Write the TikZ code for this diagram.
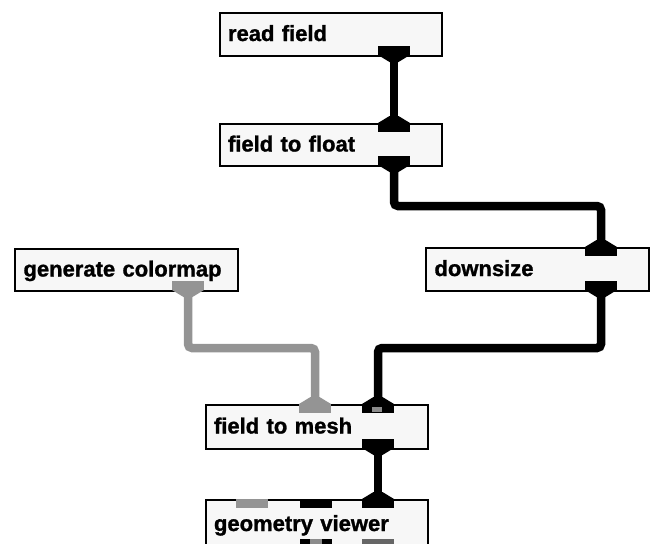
\documentclass[tikz,border=0pt]{standalone}
\usepackage{fontspec}
\newfontfamily\boxfont[BoldFeatures={FakeBold=1.2}]{Liberation Sans}
\tikzset{
  modbox/.style={draw=black, line width=2pt, fill=black!3, anchor=north west,
    minimum width=222pt, minimum height=43pt, inner xsep=8pt, text width=206pt,
    align=left, text height=16pt, text depth=3pt,
    font={\boxfont\bfseries\fontsize{22}{24}\selectfont}},
  wire/.style={line width=8.5pt, rounded corners=4pt, draw=#1},
  wire/.default=black,
  pics/outport/.style={code={
    \fill[#1] (-16,-9) rectangle (16,0);
    \fill[#1] (-16,0) -- (16,0) -- (4.5,7) -- (-4.5,7) -- cycle;}},
  pics/inport/.style={code={
    \fill[#1] (-16,0) rectangle (16,9);
    \fill[#1] (-16,0) -- (16,0) -- (4.5,-7) -- (-4.5,-7) -- cycle;}},
  pics/topport/.style={code={\fill[#1] (-16,0) rectangle (16,9);}},
  pics/botport/.style={code={\fill[#1] (-16,-9) rectangle (16,0);}},
}
\colorlet{gwire}{black!42}
\begin{document}
\begin{tikzpicture}[x=1pt, y=-1pt]
\useasboundingbox (0,0) rectangle (654,544);
\clip (0,0) rectangle (654,544);
% modules
\node[modbox] (read)  at (219,12)  {read field};
\node[modbox, minimum height=42pt] (float) at (219,123) {field to float};
\node[modbox, minimum width=223pt] (down)  at (425,247) {downsize};
\node[modbox, minimum width=223pt, minimum height=42pt] (cmap)  at (14,248)  {generate colormap};
\node[modbox, minimum height=44pt] (mesh)  at (205,404) {field to mesh};
\node[modbox, minimum height=49pt] (geom)  at (205,499) {geometry viewer};
% port coordinates
\coordinate (read-o)  at (394,55);
\coordinate (float-i) at (394,123);
\coordinate (float-o) at (394,165);
\coordinate (down-i)  at (601,247);
\coordinate (down-o)  at (601,290);
\coordinate (cmap-o)  at (188,290);
\coordinate (mesh-ig) at (315,404);
\coordinate (mesh-i)  at (378,404);
\coordinate (mesh-o)  at (378,448);
\coordinate (geom-i)  at (378,499);
\coordinate (geom-ig) at (252,499);
\coordinate (geom-ib) at (316,499);
\coordinate (geom-o1) at (316,548);
\coordinate (geom-o2) at (378,548);
% connectors
\draw[wire] (read-o) -- (float-i);
\draw[wire] (float-o) -- ++(0,41) -| (down-i);
\draw[wire] (down-o) -- ++(0,58) -| (mesh-i);
\draw[wire=gwire] (cmap-o) -- ++(0,58) -| (mesh-ig);
\draw[wire] (mesh-o) -- (geom-i);
% ports
\pic at (read-o)  {outport=black};
\pic at (float-i) {inport=black};
\pic at (float-o) {outport=black};
\pic at (down-i)  {inport=black};
\pic at (down-o)  {outport=black};
\pic at (cmap-o)  {outport=gwire};
\pic at (mesh-ig) {inport=gwire};
\pic at (mesh-i)  {inport=black};
\fill[black!45] ([xshift=-6pt,yshift=-3pt]mesh-i) rectangle ([xshift=4pt,yshift=-8pt]mesh-i);
\pic at (mesh-o)  {outport=black};
\pic at (geom-i)  {inport=black};
\pic at (geom-ig) {topport=gwire};
\pic at (geom-ib) {topport=black};
\pic at (geom-o1) {botport=black};
\fill[black!45] ([xshift=-6pt,yshift=3pt]geom-o1) rectangle ([xshift=6pt,yshift=9pt]geom-o1);
\pic at (geom-o2) {botport=black!60};
\end{tikzpicture}
\end{document}
